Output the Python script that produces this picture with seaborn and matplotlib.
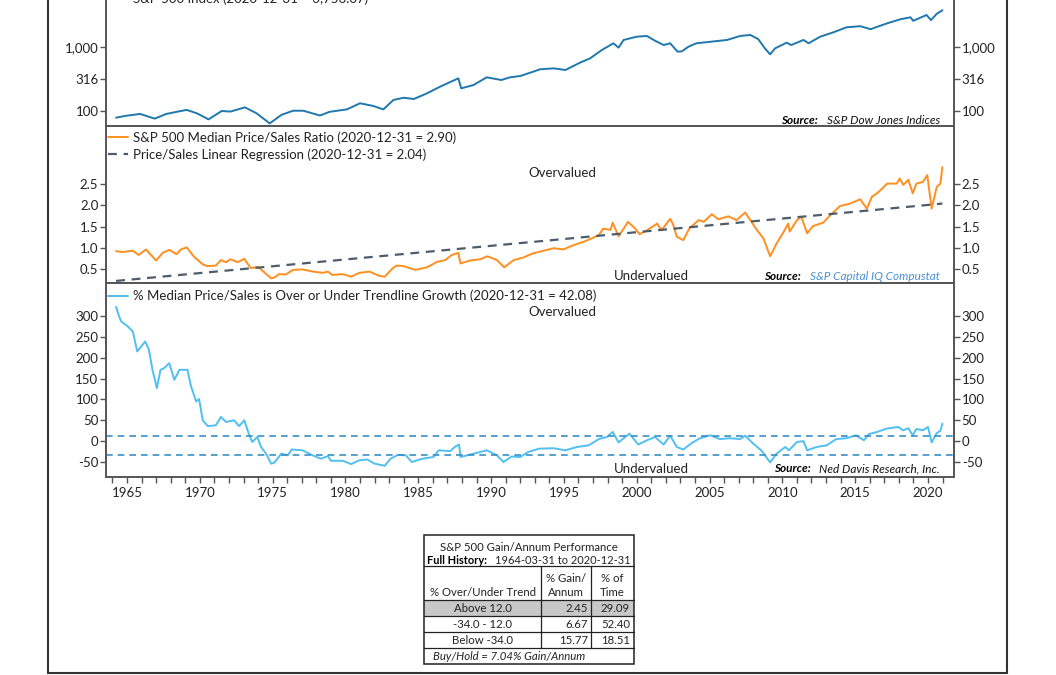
import numpy as np
import pandas as pd
import matplotlib
matplotlib.use('Agg')
import matplotlib.pyplot as plt
import seaborn as sns
from matplotlib.lines import Line2D
from matplotlib.patches import Rectangle
from matplotlib.ticker import FixedLocator, NullLocator, MultipleLocator

# ---------------- data ----------------
spx_years = [1964.25, 1964.9, 1965.9, 1966.9, 1967.7, 1968.5, 1969.1, 1969.8, 1970.6, 1971.5,
             1972.1, 1973.1, 1973.9, 1974.8, 1975.6, 1976.4, 1977.1, 1978.25, 1978.9, 1980.1,
             1981.0, 1981.9, 1982.6, 1983.3, 1984.0, 1984.7, 1985.6, 1986.5, 1987.75, 1987.95,
             1988.8, 1989.7, 1990.7, 1991.3, 1992.0, 1992.9, 1993.35, 1994.3, 1995.1, 1996.1,
             1996.8, 1997.6, 1998.4, 1998.75, 1999.1, 2000.0, 2000.7, 2001.25, 2001.85, 2002.3,
             2002.8, 2003.1, 2003.55, 2004.1, 2005.05, 2006.2, 2007.1, 2007.8, 2008.35, 2008.8,
             2009.16, 2009.5, 2010.3, 2010.6, 2011.45, 2011.8, 2012.6, 2013.5, 2014.4, 2015.35,
             2016.05, 2017.2, 2018.1, 2018.8, 2018.98, 2019.9, 2020.2, 2020.6, 2020.99]
spx_values = [78.6, 84, 90, 76, 90, 98, 104, 92, 74, 100,
              98, 114, 92, 64, 87, 101, 101, 85, 97, 106,
              132, 120, 106, 149, 161, 154, 189, 240, 324, 226,
              255, 336, 305, 336, 352, 412, 448, 464, 437, 569,
              665, 896, 1143, 977, 1288, 1450, 1487, 1255, 1072, 1143,
              846, 855, 1011, 1143, 1207, 1288, 1487, 1542, 1323, 952,
              768, 952, 1170, 1072, 1288, 1143, 1450, 1695, 2030, 2115,
              1898, 2346, 2710, 2911, 2566, 3162, 2630, 3297, 3756.07]

ps_years = [1964.25, 1964.7, 1965.4, 1965.8, 1966.3, 1967.0, 1967.45, 1967.9, 1968.4, 1968.7,
            1969.1, 1969.6, 1970.2, 1970.5, 1971.1, 1971.45, 1971.8, 1972.1, 1972.6, 1973.05,
            1973.5, 1974.0, 1974.3, 1974.9, 1975.1, 1975.45, 1975.9, 1976.4, 1977.05, 1977.75,
            1978.45, 1978.8, 1979.1, 1979.8, 1980.4, 1980.95, 1981.65, 1982.3, 1982.7, 1983.25,
            1983.5, 1983.98, 1984.8, 1985.6, 1986.3, 1986.85, 1987.3, 1987.75, 1987.9, 1988.55,
            1989.25, 1989.75, 1990.4, 1990.9, 1991.55, 1992.2, 1992.9, 1993.6, 1994.3, 1994.95,
            1995.65, 1996.35, 1996.9, 1997.4, 1997.7, 1998.2, 1998.35, 1998.75, 1999.1, 1999.4,
            1999.9, 2000.2, 2000.7, 2001.4, 2001.7, 2002.3, 2002.5, 2002.75, 2003.2, 2003.6,
            2004.25, 2004.6, 2005.15, 2005.6, 2006.3, 2006.85, 2007.45, 2007.8, 2008.25, 2008.7,
            2009.16, 2009.6, 2010.1, 2010.4, 2010.5, 2011.0, 2011.3, 2011.7, 2012.1, 2012.8,
            2013.3, 2013.95, 2014.65, 2015.35, 2015.8, 2016.15, 2016.6, 2017.2, 2017.85, 2018.05,
            2018.3, 2018.65, 2018.95, 2019.2, 2019.65, 2019.95, 2020.25, 2020.6, 2020.85, 2020.99]
ps_values = [0.92, 0.90, 0.93, 0.83, 0.96, 0.70, 0.88, 0.95, 0.85, 0.96,
             1.01, 0.79, 0.61, 0.57, 0.58, 0.71, 0.66, 0.73, 0.66, 0.74,
             0.52, 0.55, 0.46, 0.28, 0.30, 0.38, 0.37, 0.48, 0.49, 0.44,
             0.41, 0.44, 0.36, 0.38, 0.32, 0.41, 0.44, 0.34, 0.32, 0.52,
             0.58, 0.57, 0.48, 0.54, 0.67, 0.71, 0.83, 0.88, 0.63, 0.70,
             0.73, 0.80, 0.71, 0.54, 0.71, 0.77, 0.87, 0.93, 0.99, 0.96,
             1.06, 1.14, 1.22, 1.30, 1.45, 1.42, 1.59, 1.27, 1.45, 1.61,
             1.45, 1.32, 1.41, 1.57, 1.41, 1.68, 1.55, 1.26, 1.18, 1.45,
             1.65, 1.61, 1.79, 1.67, 1.74, 1.65, 1.83, 1.65, 1.42, 1.22,
             0.80, 1.10, 1.38, 1.57, 1.38, 1.65, 1.73, 1.34, 1.51, 1.59,
             1.77, 1.98, 2.04, 2.14, 1.92, 2.20, 2.31, 2.51, 2.51, 2.63,
             2.48, 2.60, 2.28, 2.51, 2.55, 2.71, 1.92, 2.43, 2.51, 2.90]

reg_years = [1964.25, 2020.99]
reg_values = [0.22, 2.04]

dev_years = [1964.25, 1964.45, 1964.6, 1965.05, 1965.4, 1965.7, 1966.25, 1966.5, 1966.75, 1967.05,
             1967.3, 1967.55, 1967.9, 1968.25, 1968.6, 1969.15, 1969.4, 1969.75, 1969.95, 1970.2,
             1970.55, 1971.1, 1971.45, 1971.8, 1972.35, 1972.7, 1973.05, 1973.4, 1973.6, 1973.95,
             1974.2, 1974.55, 1974.9, 1975.1, 1975.6, 1976.05, 1976.3, 1977.05, 1977.75, 1978.3,
             1978.8, 1979.0, 1979.8, 1980.4, 1980.95, 1981.5, 1982.0, 1982.7, 1983.1, 1983.6,
             1984.15, 1984.55, 1985.3, 1986.05, 1986.4, 1987.2, 1987.5, 1987.8, 1987.9, 1988.8,
             1989.7, 1990.4, 1990.85, 1991.4, 1992.0, 1992.55, 1993.3, 1994.3, 1995.1, 1995.9,
             1996.7, 1997.4, 1997.95, 1998.35, 1998.75, 1999.1, 1999.5, 2000.1, 2000.7, 2001.25,
             2001.85, 2002.3, 2002.75, 2003.2, 2003.8, 2004.35, 2005.05, 2005.7, 2006.4, 2007.1,
             2007.45, 2008.0, 2008.55, 2009.16, 2009.6, 2010.2, 2010.45, 2011.0, 2011.45, 2011.7,
             2012.35, 2013.05, 2013.7, 2014.4, 2015.05, 2015.6, 2015.95, 2016.5, 2017.15, 2017.95,
             2018.3, 2018.65, 2018.95, 2019.2, 2019.65, 2020.0, 2020.25, 2020.6, 2020.85, 2020.99]
dev_values = [322, 300, 287, 275, 263, 215, 239, 220, 171, 127,
              171, 175, 187, 147, 171, 171, 131, 95, 101, 50,
              36, 38, 58, 46, 50, 36, 50, 14, -2, 10,
              -14, -30, -54, -52, -30, -34, -20, -22, -34, -42,
              -36, -47, -47, -55, -46, -44, -54, -59, -42, -33,
              -34, -50, -42, -38, -22, -24, -14, -8, -38, -30,
              -22, -34, -50, -37, -38, -26, -18, -17, -22, -14,
              -10, 5, 10, 22, -3, 7, 18, -8, 2, 10,
              -8, 13, -14, -20, -4, 7, 14, 5, 7, 5,
              13, -6, -22, -51, -30, -14, -22, -2, 0, -22,
              -14, -10, 5, 7, 14, 2, 17, 22, 30, 34,
              26, 31, 14, 29, 26, 34, -3, 19, 25, 42.08]

thresholds = [12.0, -34.0]

spx_ticks = [100, 316, 1000]
spx_ticklabels = ['100', '316', '1,000']
ps_ticks = [0.5, 1.0, 1.5, 2.0, 2.5]
dev_ticks = [-50, 0, 50, 100, 150, 200, 250, 300]
year_ticks = list(range(1965, 2021, 5))

table_title = 'S&P 500 Gain/Annum Performance'
table_history = ('Full History:', '1964-03-31 to 2020-12-31')
table_rows = ['Above 12.0', '-34.0 - 12.0', 'Below -34.0']
table_gain = ['2.45', '6.67', '15.77']
table_time = ['29.09', '52.40', '18.51']
table_footer = 'Buy/Hold = 7.04% Gain/Annum'

# ---------------- style ----------------
sns.set_theme(style='white')
plt.rcParams['font.family'] = ['Lato', 'DejaVu Sans']
FS = 9.5
SP = '#555555'

W, H = 1056, 675
fig = plt.figure(figsize=(W / 100, H / 100), dpi=100)


def box(top, bottom):
    return [106 / W, 1 - bottom / H, (954 - 106) / W, (bottom - top) / H]


ax1 = fig.add_axes(box(-20, 126))
ax2 = fig.add_axes(box(126, 283))
ax3 = fig.add_axes(box(283, 477))

XL = (1963.558, 2021.785)

df1 = pd.DataFrame({'year': spx_years, 'v': spx_values})
df2 = pd.DataFrame({'year': ps_years, 'v': ps_values})
dfr = pd.DataFrame({'year': reg_years, 'v': reg_values})
df3 = pd.DataFrame({'year': dev_years, 'v': dev_values})

sns.lineplot(data=df1, x='year', y='v', ax=ax1, color='#1f78ad', lw=1.4,
             label='S&P 500 Index (2020-12-31 = 3,756.07)')
sns.lineplot(data=df2, x='year', y='v', ax=ax2, color='#ff8f1f', lw=1.4,
             label='S&P 500 Median Price/Sales Ratio (2020-12-31 = 2.90)')
sns.lineplot(data=dfr, x='year', y='v', ax=ax2, color='#4d5d6b', lw=1.6,
             linestyle=(0, (4, 3)), label='Price/Sales Linear Regression (2020-12-31 = 2.04)')
sns.lineplot(data=df3, x='year', y='v', ax=ax3, color='#50bff2', lw=1.4,
             label='% Median Price/Sales is Over or Under Trendline Growth (2020-12-31 = 42.08)')
for t in thresholds:
    ax3.axhline(t, color='#3b8fc4', lw=1.2, linestyle=(0, (4, 3)))

ax1.set_yscale('log')
ax1.set_ylim(58.3, 11140)
ax1.yaxis.set_major_locator(FixedLocator(spx_ticks))
ax1.yaxis.set_minor_locator(NullLocator())
ax1.set_yticklabels(spx_ticklabels)

ax2.set_ylim(0.171, 3.865)
ax2.set_yticks(ps_ticks)
ax2.set_yticklabels([f'{v:.1f}' for v in ps_ticks])

ax3.set_ylim(-85.96, 379.1)
ax3.set_yticks(dev_ticks)
ax3.set_yticklabels([str(v) for v in dev_ticks])

for ax in (ax1, ax2, ax3):
    ax.set_xlim(*XL)
    ax.set_xlabel('')
    ax.set_ylabel('')
    ax.set_facecolor('white')
    for s in ax.spines.values():
        s.set_color(SP)
        s.set_linewidth(1.4)
    ax.tick_params(axis='y', which='both', left=True, right=True, labelleft=True, labelright=True,
                   direction='out', length=4, width=1, color=SP, pad=1.5, labelsize=FS,
                   labelcolor='#222222')

for ax in (ax1, ax2):
    ax.tick_params(axis='x', which='both', bottom=False, labelbottom=False)
    ax.set_xticks([])

ax3.xaxis.set_major_locator(FixedLocator(year_ticks))
ax3.xaxis.set_minor_locator(MultipleLocator(1))
ax3.set_xticklabels([str(y) for y in year_ticks])
ax3.tick_params(axis='x', which='both', bottom=True, direction='out', length=4, width=1,
                color=SP, labelsize=FS, labelcolor='#222222', pad=3)

leg_kw = dict(frameon=False, borderpad=0, borderaxespad=0, handlelength=1.55,
              handletextpad=0.35, fontsize=FS, labelspacing=0.35)
ax1.legend(loc='center left', bbox_to_anchor=(0.002, 127 / 146), **leg_kw)
ax2.legend(loc='upper left', bbox_to_anchor=(0.002, (283 - 131) / 157), **leg_kw)
ax3.legend(loc='center left', bbox_to_anchor=(0.002, (477 - 296) / 194), **leg_kw)
for ax in (ax1, ax2, ax3):
    for txt in ax.get_legend().get_texts():
        txt.set_color('#222222')

# ---------------- overlay (pixel coordinates) ----------------
ov = fig.add_axes([0, 0, 1, 1], zorder=10)
ov.set_xlim(0, W)
ov.set_ylim(H, 0)
ov.axis('off')

TXT = '#222222'
ov.text(562, 173, 'Overvalued', ha='center', va='center', fontsize=FS, color=TXT)
ov.text(651, 276.5, 'Undervalued', ha='center', va='center', fontsize=FS, color=TXT)
ov.text(562, 312, 'Overvalued', ha='center', va='center', fontsize=FS, color=TXT)
ov.text(651, 469, 'Undervalued', ha='center', va='center', fontsize=FS, color=TXT)

fig.canvas.draw()


def source(y, name, color):
    t = ov.text(940, y, name, ha='right', va='center', fontsize=8.5, style='italic', color=color)
    fig.canvas.draw()
    bb = t.get_window_extent()
    ov.text(bb.x0 - 9, y, 'Source:', ha='right', va='center', fontsize=8.5, style='italic',
            weight='bold', color='black')


source(120, 'S&P Dow Jones Indices', '#111111')
source(276.5, 'S&P Capital IQ Compustat', '#4a8fd4')
source(469, 'Ned Davis Research, Inc.', '#111111')

# outer frame
FR = '#333333'
ov.add_line(Line2D([48, 48], [-5, 673], color=FR, lw=1.5))
ov.add_line(Line2D([1007, 1007], [-5, 673], color=FR, lw=1.5))
ov.add_line(Line2D([48, 1007], [673, 673], color=FR, lw=1.5))

# table
TF = 8.2
TL, TR, TT, TB = 424, 634, 535, 664
c1, c2 = 541, 591
ov.add_patch(Rectangle((TL, 600), TR - TL, 16, facecolor='#c8c8c8', edgecolor='none'))
ov.add_patch(Rectangle((TL, TT), TR - TL, TB - TT, facecolor='none', edgecolor='#222222', lw=1.1))
for yy in (566, 600, 616, 632, 648):
    ov.add_line(Line2D([TL, TR], [yy, yy], color='#222222', lw=0.9))
for xx in (c1, c2):
    ov.add_line(Line2D([xx, xx], [566, 648], color='#222222', lw=0.9))

ov.text((TL + TR) / 2, 547.5, table_title, ha='center', va='center', fontsize=TF, color=TXT)
ov.text(427, 560, table_history[0], ha='left', va='center', fontsize=TF - 0.3, weight='bold',
        color='black')
ov.text(631, 560, table_history[1], ha='right', va='center', fontsize=TF - 0.3, color=TXT)
ov.text((TL + c1) / 2, 592, '% Over/Under Trend', ha='center', va='center', fontsize=TF, color=TXT)
ov.text((c1 + c2) / 2, 578, '% Gain/', ha='center', va='center', fontsize=TF, color=TXT)
ov.text((c1 + c2) / 2, 592, 'Annum', ha='center', va='center', fontsize=TF, color=TXT)
ov.text((c2 + TR) / 2, 578, '% of', ha='center', va='center', fontsize=TF, color=TXT)
ov.text((c2 + TR) / 2, 592, 'Time', ha='center', va='center', fontsize=TF, color=TXT)
for i, (lab, g, tm) in enumerate(zip(table_rows, table_gain, table_time)):
    yy = 608 + 16 * i
    ov.text((TL + c1) / 2, yy, lab, ha='center', va='center', fontsize=TF, color=TXT)
    ov.text(c2 - 3, yy, g, ha='right', va='center', fontsize=TF, color=TXT)
    ov.text(TR - 4, yy, tm, ha='right', va='center', fontsize=TF, color=TXT)
ov.text(433, 656, table_footer, ha='left', va='center', fontsize=TF, style='italic', color=TXT)

fig.savefig('out.png', dpi=100)
